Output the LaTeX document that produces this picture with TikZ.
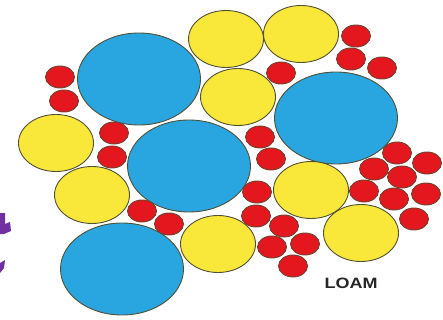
\documentclass[tikz,border=0pt]{standalone}
\usepackage{fontspec}
\newfontfamily\loamfont{Liberation Sans}[FakeStretch=1.2]
\usetikzlibrary{shapes.geometric}
\definecolor{sandblue}{RGB}{41,166,224}
\definecolor{siltyellow}{RGB}{249,231,58}
\definecolor{clayred}{RGB}{228,22,30}
\definecolor{grainline}{RGB}{80,80,55}
\definecolor{markpurple}{RGB}{112,48,160}

\tikzset{
  grain/.style={ellipse, draw=grainline, line width=0.9pt, inner sep=0pt},
  sandgrain/.style={grain, fill=sandblue, minimum width=123pt, minimum height=92pt},
  siltgrain/.style={grain, fill=siltyellow, minimum width=75pt, minimum height=57pt},
  claygrain/.style={grain, fill=clayred, draw=grainline!80!clayred, minimum width=29pt, minimum height=22pt}
}

\begin{document}
\begin{tikzpicture}[x=1pt, y=-1pt]
\useasboundingbox (0,0) rectangle (443,320);

% sand
\foreach \x/\y [count=\i] in {139/79, 336/118, 189/166, 122/269}
  \node[sandgrain] (sand\i) at (\x,\y) {};

% silt
\foreach \x/\y [count=\i] in {226/39, 301/34, 238/97, 56/143, 92/195, 218/244, 311/190, 361/233}
  \node[siltgrain] (silt\i) at (\x,\y) {};

% clay
\foreach \x/\y [count=\i] in {60/77, 64/101, 114/133, 112/157, 142/211, 169/224,
    356/36, 351/59, 382/68, 281/73, 260/137, 271/159,
    397/153, 427/163, 374/169, 402/177, 364/191, 394/199, 426/194, 414/219,
    257/192, 256/216, 284/226, 272/247, 305/244, 293/266}
  \node[claygrain] (clay\i) at (\x,\y) {};

\node[font=\loamfont\bfseries\fontsize{15}{15}\selectfont, text=black!85] (loam) at (351,283) {LOAM};

% cut-off mark on the left edge
\fill[markpurple] (0,213) -- (5,213) -- (5,224) -- (10,222) -- (11,231) -- (4,234) -- (0,234) -- cycle;
\fill[markpurple] (0,263) -- (5,260) -- (4,268) -- (0,273) -- cycle;
\end{tikzpicture}
\end{document}
